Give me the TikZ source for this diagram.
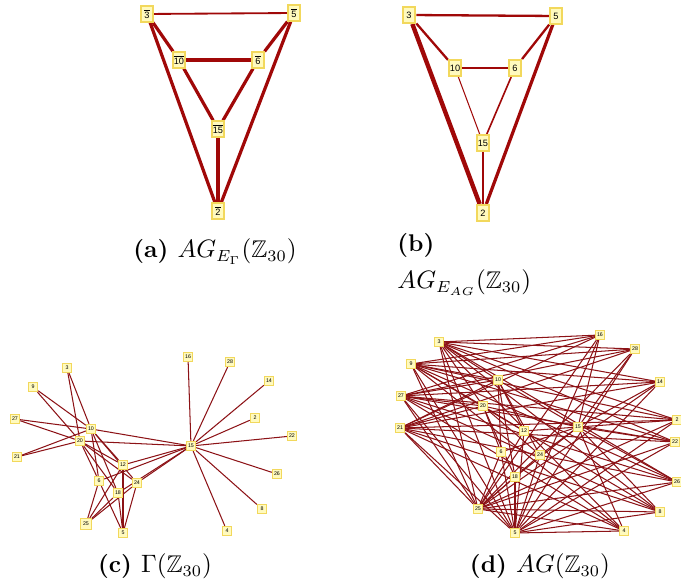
\documentclass[tikz,border=0pt]{standalone}
\usepackage{amsmath,amssymb}
\usepackage{fontspec}
\setsansfont{Liberation Sans}
\usepackage{tikz}
\usetikzlibrary{backgrounds}
\definecolor{edgered}{RGB}{160,8,8}
\definecolor{thinred}{RGB}{140,18,22}
\definecolor{vfill}{RGB}{255,250,190}
\definecolor{vline}{RGB}{242,216,92}
\tikzstyle{bigv}=[draw=vline,fill=vfill,line width=0.7pt,inner sep=0.4pt,minimum width=5.4pt,minimum height=6.8pt,font=\fontsize{4}{5}\selectfont\sffamily]
\tikzstyle{smallv}=[draw=vline,fill=vfill,line width=0.6pt,inner sep=0.3pt,minimum size=3.9pt,font=\fontsize{2.3}{3}\selectfont\sffamily]
\tikzstyle{ed}=[draw=edgered,line width=0.45pt]
\tikzstyle{thin ed}=[draw=thinred,line width=0.45pt]
\tikzstyle{subcap}=[anchor=base,inner sep=0pt,font=\fontsize{10.5}{12.5}\selectfont]
\newcommand{\bclass}[1]{$\overline{\mbox{#1}}$}

\begin{document}
\begin{tikzpicture}[x=0.435pt,y=-0.435pt]
\useasboundingbox (0,0) rectangle (681,585);
% (a) classes of Gamma
\node[bigv] (a3) at (147,14) {\bclass{3}};
\node[bigv] (a5) at (294,13) {\bclass{5}};
\node[bigv] (a10) at (179,60) {\bclass{10}};
\node[bigv] (a6) at (258,60) {\bclass{6}};
\node[bigv] (a15) at (218,129) {\bclass{15}};
\node[bigv] (a2) at (218,211) {\bclass{2}};
\begin{pgfonlayer}{background}
\draw[ed,line width=0.8pt] (a3) -- (a5);
\foreach \u/\v in {a3/a10,a3/a2,a5/a6,a5/a2,a10/a6,a10/a15,a6/a15,a15/a2}
  \draw[ed,line width=1.4pt] (\u) -- (\v);
\end{pgfonlayer}
\node[subcap] (capa) at (215,258) {\textbf{(a)}\hspace{4pt}$AG_{E_\Gamma}(\mathbb{Z}_{30})$};

% (b) classes of AG, weighted
\node[bigv,line width=1pt] (b3) at (409,15) {3};
\node[bigv] (b5) at (556,16) {5};
\node[bigv] (b10) at (455,68) {10};
\node[bigv,line width=1pt] (b6) at (515,68) {6};
\node[bigv] (b15) at (483,143) {15};
\node[bigv,line width=1pt] (b2) at (483,213) {2};
\begin{pgfonlayer}{background}
\draw[ed,line width=1.9pt] (b3) -- (b2);
\draw[ed,line width=1.4pt] (b5) -- (b2);
\foreach \u/\v in {b3/b5,b3/b10,b5/b6,b10/b6,b15/b2}
  \draw[ed,line width=1pt] (\u) -- (\v);
\draw[ed,line width=0.7pt] (b6) -- (b15);
\draw[ed,line width=0.45pt] (b10) -- (b15);
\end{pgfonlayer}
\node[subcap,anchor=base west] (capb) at (397,252) {\textbf{(b)}};
\node[subcap,anchor=base west] (capb2) at (397,289) {$AG_{E_{AG}}(\mathbb{Z}_{30})$};

% (c) zero-divisor graph
\node[smallv] (z16) at (188,357) {16};
\node[smallv] (z28) at (230,362) {28};
\node[smallv] (z14) at (269,381) {14};
\node[smallv] (z2) at (255,418) {2};
\node[smallv] (z22) at (292,436) {22};
\node[smallv] (z26) at (277,474) {26};
\node[smallv] (z8) at (262,509) {8};
\node[smallv] (z4) at (227,531) {4};
\node[smallv] (z15) at (191,446) {15};
\node[smallv] (z3) at (67,368) {3};
\node[smallv] (z9) at (33,387) {9};
\node[smallv] (z27) at (15,419) {27};
\node[smallv] (z21) at (17,457) {21};
\node[smallv] (z10) at (91,429) {10};
\node[smallv] (z20) at (80,441) {20};
\node[smallv] (z12) at (123,465) {12};
\node[smallv] (z6) at (99,481) {6};
\node[smallv] (z24) at (137,483) {24};
\node[smallv] (z18) at (118,493) {18};
\node[smallv,minimum size=4.6pt] (z25) at (86,524) {25};
\node[smallv] (z5) at (123,533) {5};
\begin{pgfonlayer}{background}
\foreach \u in {2,4,8,14,16,22,26,28,6,12,18,24,10,20}
  \draw[thin ed] (z15) -- (z\u);
\foreach \u in {3,9,21,27,6,12,18,24}
  {\foreach \w in {10,20} \draw[thin ed] (z\w) -- (z\u);}
\foreach \u in {6,12,18,24}
  {\foreach \w in {5,25} \draw[thin ed] (z\w) -- (z\u);}
\end{pgfonlayer}
\node[subcap] (capc) at (155,573) {\textbf{(c)}\hspace{4pt}$\Gamma(\mathbb{Z}_{30})$};

% (d) annihilator graph
\node[smallv] (g3) at (439,342) {3};
\node[smallv] (g16) at (600,335) {16};
\node[smallv] (g28) at (635,349) {28};
\node[smallv] (g9) at (411,364) {9};
\node[smallv] (g10) at (498,380) {10};
\node[smallv] (g14) at (660,382) {14};
\node[smallv] (g27) at (401,396) {27};
\node[smallv] (g20) at (483,406) {20};
\node[smallv] (g2) at (677,420) {2};
\node[smallv] (g21) at (400,428) {21};
\node[smallv] (g15) at (578,427) {15};
\node[smallv] (g12) at (524,431) {12};
\node[smallv] (g22) at (675,442) {22};
\node[smallv] (g6) at (501,452) {6};
\node[smallv] (g24) at (540,455) {24};
\node[smallv] (g18) at (515,477) {18};
\node[smallv] (g26) at (677,482) {26};
\node[smallv] (g25) at (478,509) {25};
\node[smallv] (g8) at (660,512) {8};
\node[smallv] (g5) at (515,533) {5};
\node[smallv] (g4) at (624,531) {4};
\begin{pgfonlayer}{background}
\foreach \u in {2,4,8,14,16,22,26,28}
  {\foreach \w in {3,9,21,27,5,25,15} \draw[thin ed] (g\u) -- (g\w);}
\foreach \u in {3,9,21,27}
  {\foreach \w in {5,25,10,20} \draw[thin ed] (g\u) -- (g\w);}
\foreach \u in {6,12,18,24}
  {\foreach \w in {5,25,10,20,15} \draw[thin ed] (g\u) -- (g\w);}
\draw[thin ed] (g10) -- (g15);
\draw[thin ed] (g20) -- (g15);
\end{pgfonlayer}
\node[subcap] (capd) at (540,573) {\textbf{(d)}\hspace{4pt}$AG(\mathbb{Z}_{30})$};
\end{tikzpicture}
\end{document}
